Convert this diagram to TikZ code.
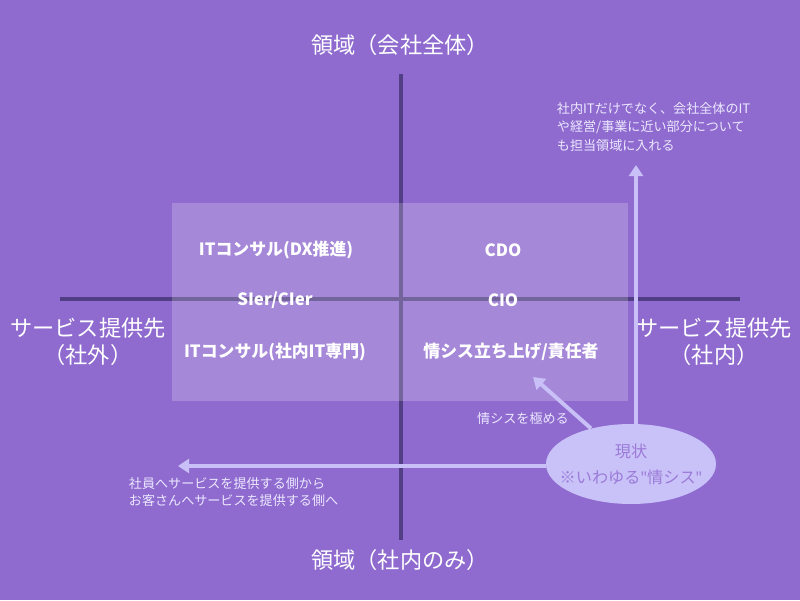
\documentclass[tikz,border=0pt]{standalone}
\usepackage{fontspec}
\setmainfont{Noto Sans CJK JP}
\newfontfamily\latinfont{Noto Sans}
\usepackage{xcolor}
\usepackage{tikz}
\usetikzlibrary{shapes}
\usetikzlibrary{shapes.geometric}
\usetikzlibrary{arrows.meta}
\usetikzlibrary{positioning}
\usetikzlibrary{calc}
\definecolor{bgpurple}{RGB}{143,107,207}
\definecolor{axispurple}{RGB}{82,62,132}
\definecolor{lavender}{RGB}{200,192,246}
\definecolor{nowfill}{RGB}{201,194,248}
\definecolor{nowtext}{RGB}{155,122,216}
\definecolor{notetext}{RGB}{236,232,255}
\tikzstyle{axis}=[draw=axispurple,line width=3pt]
\tikzstyle{zone}=[fill=white,fill opacity=0.2]
\tikzstyle{axislabel}=[text=white,align=center,font=\fontsize{15.8}{19}\selectfont]
\tikzstyle{role}=[text=white,font=\fontsize{12}{14}\selectfont\bfseries]
\tikzstyle{note}=[text=notetext,align=left,font=\fontsize{9.3}{13}\selectfont]
\tikzstyle{current}=[ellipse,fill=nowfill,text=nowtext,align=center,
minimum width=4.25cm,minimum height=2cm,inner xsep=-0.3cm,inner ysep=0pt,
font=\fontsize{11.5}{18.5}\selectfont]
\tikzstyle{suite}=[->,>={Triangle[length=8pt,width=10pt]},draw=lavender,
line width=2.8pt]
\begin{document}
\begin{tikzpicture}
\fill[bgpurple] (0,0) rectangle (20,15);
\draw[axis] (10.025,1.5) -- (10.025,13.15);
\draw[axis] (1.5,7.525) -- (18.5,7.525);
\fill[zone] (4.3,4.975) rectangle (15.7,9.925);
\node[axislabel] (scopeall) at (10,13.875) {領域（会社全体）};
\node[axislabel] (scopein) at (10,1.0) {領域（社内のみ）};
\node[axislabel] (outside) at (2.2,6.45) {サービス提供先\\（社外）};
\node[axislabel] (inside) at (17.85,6.45) {サービス提供先\\（社内）};
\node[role] (dx) at (6.9,8.75) {ITコンサル(DX推進)};
\node[role] (cdo) at (12.575,8.75) {CDO};
\node[role] (sier) at (6.875,7.5) {SIer/CIer};
\node[role] (cio) at (12.575,7.5) {CIO};
\node[role] (itin) at (6.875,6.2) {ITコンサル(社内IT専門)};
\node[role] (joshis) at (12.775,6.2) {情シス立ち上げ/責任者};
\node[current] (now) at (15.775,3.4)
{現状\\※いわゆる{\latinfont"}情シス{\latinfont"}};
\coordinate (upend) at (15.9,10.875);
\coordinate (leftend) at (4.45,3.35);
\coordinate (peak) at (13.325,5.575);
\node[note,anchor=west] (wide) at (13.8,11.825)
{社内ITだけでなく、会社全体のIT\\や経営/事業に近い部分について\\も担当領域に入れる};
\node[note] (deep) at (13.075,4.525) {情シスを極める};
\node[note,anchor=west,font=\fontsize{9.3}{12.2}\selectfont] (client) at (3.1,2.7)
{社員へサービスを提供する側から\\お客さんへサービスを提供する側へ};
% fleches depuis le present
\draw[suite] (now.north -| upend) -- (upend);
\draw[suite] (now.west |- leftend) -- (leftend);
\draw[suite] (now) -- (peak);
\end{tikzpicture}
\end{document}
